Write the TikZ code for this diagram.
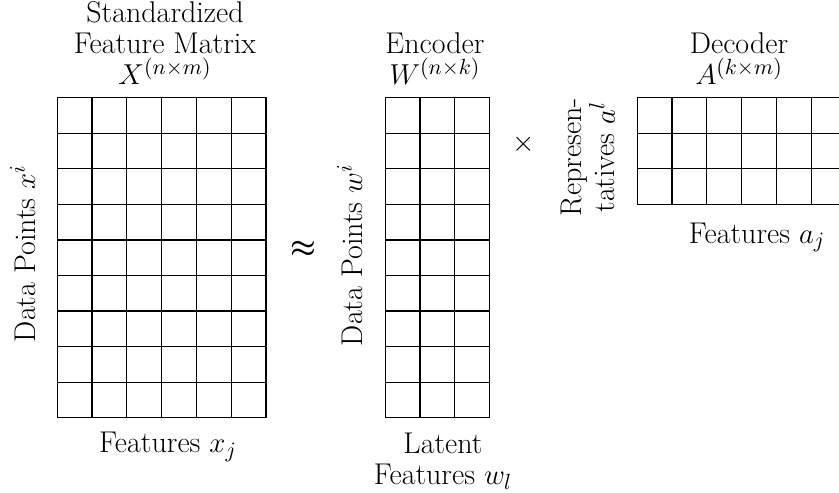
\documentclass[tikz,border=0pt]{standalone}
\usepackage{amsmath,amssymb}
\usetikzlibrary{calc}
\begin{document}
\begin{tikzpicture}[x=0.5pt,y=-0.5pt,
  lbl/.style={inner sep=0pt, font=\fontsize{15}{15.6}\selectfont, align=center},
  gridline/.style={line width=0.6pt, black},
  mat/.style={draw, line width=0.6pt, inner sep=0pt, outer sep=0pt, anchor=north west}]
\useasboundingbox (0,0) rectangle (839,492);
\clip (0,0) rectangle (839,492);
% matrices
\node[mat, minimum width=104.35pt, minimum height=160pt] (X) at (57.3,97.7) {};
\node[mat, minimum width=52.15pt, minimum height=160pt] (W) at (385.3,97.7) {};
\node[mat, minimum width=104.35pt, minimum height=53.35pt] (A) at (637.3,97.7) {};
% grid lines
\foreach \i in {1,...,5}
  \draw[gridline] ($(X.north west)!\i/6!(X.north east)$) -- ($(X.south west)!\i/6!(X.south east)$);
\foreach \j in {1,...,8}
  \draw[gridline] ($(X.north west)!\j/9!(X.south west)$) -- ($(X.north east)!\j/9!(X.south east)$);
\foreach \i in {1,2}
  \draw[gridline] ($(W.north west)!\i/3!(W.north east)$) -- ($(W.south west)!\i/3!(W.south east)$);
\foreach \j in {1,...,8}
  \draw[gridline] ($(W.north west)!\j/9!(W.south west)$) -- ($(W.north east)!\j/9!(W.south east)$);
\foreach \i in {1,...,5}
  \draw[gridline] ($(A.north west)!\i/6!(A.north east)$) -- ($(A.south west)!\i/6!(A.south east)$);
\foreach \j in {1,2}
  \draw[gridline] ($(A.north west)!\j/3!(A.south west)$) -- ($(A.north east)!\j/3!(A.south east)$);
% labels
\node[lbl, anchor=south] (Xt) at (165,85) {Standardized\\Feature Matrix\\$X^{(n\times m)}$};
\node[lbl, anchor=base] (Xb) at (168,452.7) {Features $x_j$};
\node[lbl, rotate=90, anchor=base] (Xl) at (35,253.5) {Data Points $x^i$};
\node[lbl] (approx) at (303,249.5) {$\boldsymbol{\approx}$};
\node[lbl, anchor=south] (Wt) at (435,85) {Encoder\\$W^{(n\times k)}$};
\node[lbl, rotate=90, anchor=base] (Wl) at (362,255) {Data Points $w^i$};
\node[lbl, anchor=north] (Wb) at (443,432.5) {Latent\\Features $w_l$};
\node[lbl] (times) at (523.5,144) {$\times$};
\node[lbl, rotate=90] (Al) at (588,157) {Represen-\\tatives $a^l$};
\node[lbl, anchor=south] (At) at (739,85) {Decoder\\$A^{(k\times m)}$};
\node[lbl, anchor=base] (Ab) at (757,243.3) {Features $a_j$};
\end{tikzpicture}
\end{document}
